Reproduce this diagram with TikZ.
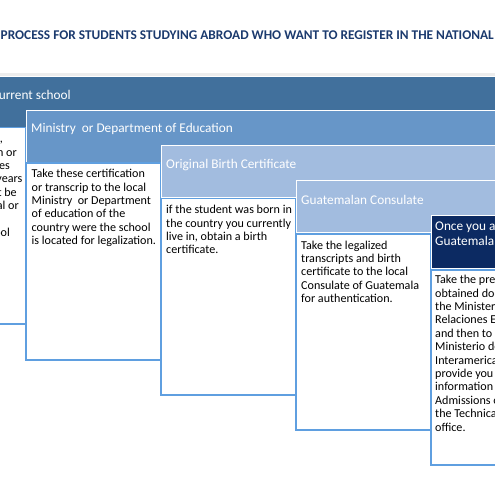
\documentclass[tikz,border=0pt]{standalone}
\usepackage{fontspec}
\setmainfont{Carlito}
\definecolor{titleblue}{HTML}{1B3A6E}
\definecolor{hdone}{HTML}{41709C}
\definecolor{hdtwo}{HTML}{6796C8}
\definecolor{hdthree}{HTML}{A2BCDF}
\definecolor{hdfive}{HTML}{0C2A62}
\definecolor{bodyline}{HTML}{5F9FE0}
\begin{document}
\begin{tikzpicture}[x=1pt,y=-1pt,
  hdr/.style={draw=white,line width=0.9pt},
  bodybox/.style={draw=bodyline,fill=white,line width=1.2pt},
  hdtext/.style={anchor=west,inner sep=0pt,text=white,font=\fontsize{13.3}{15.5}\selectfont},
  bodytext/.style={anchor=north west,inner sep=0pt,align=left,font=\fontsize{12.1}{13.4}\selectfont}]
\useasboundingbox (0,0) rectangle (495,482);
\clip (0,0) rectangle (495,482);
\fill[white] (0,0) rectangle (495,482);
% title
\node[anchor=west,inner sep=0pt,text=titleblue,font=\bfseries\fontsize{13.35}{16}\selectfont] (title) at (0.5,35)
  {PROCESS FOR STUDENTS STUDYING ABROAD WHO WANT TO REGISTER IN THE NATIONAL};
\fill[black!7] (-5,73) rectangle (500,76);
% step 1
\draw[hdr,fill=hdone] (-5,76) rectangle (500,127);
\node[hdtext] (h1) at (-8.5,95) {Current school};
\draw[bodybox] (-109,127.5) rectangle (26,324);
\node[bodytext,anchor=north east,align=right] (b1) at (22.5,134) {Obtain a certification,\kern19.5pt\\transcript of grades with or\kern5.5pt\\without the classes\kern12.5pt\\taken in the last three years\\of study, which must be\kern5.5pt\\signed by the principal or\kern3.5pt\\\mbox{}\\school\kern12.5pt};
% step 2
\draw[hdr,fill=hdtwo] (26,110) rectangle (500,162);
\node[hdtext] (h2) at (31,129) {Ministry\ \ or Department of Education};
\draw[bodybox] (26,163) rectangle (161,360);
\node[bodytext] (b2) at (31.5,169) {Take these certification\\or transcrip to the local\\Ministry\ \ or Department\\of education of the\\country were the school\\is located for legalization.};
% step 3
\draw[hdr,fill=hdthree] (161,145) rectangle (500,197);
\node[hdtext] (h3) at (166,165) {Original Birth Certificate};
\draw[bodybox] (161,198.5) rectangle (296,395);
\node[bodytext] (b3) at (166,205) {if the student was born in\\the country you currently\\live in, obtain a birth\\certificate.};
% step 4
\draw[hdr,fill=hdthree] (296,180) rectangle (500,232);
\node[hdtext] (h4) at (301,200) {Guatemalan Consulate};
\draw[bodybox] (296,234) rectangle (431,430);
\node[bodytext] (b4) at (301,240.5) {Take the legalized\\transcripts and birth\\certificate to the local\\Consulate of Guatemala\\for authentication.};
% step 5
\draw[hdr,fill=hdfive] (431,215) rectangle (500,268);
\node[hdtext,anchor=north west,align=left,font=\fontsize{13.3}{15}\selectfont] (h5) at (435,221) {Once you are in\\Guatemala};
\draw[bodybox] (431,270) rectangle (566,465);
\node[bodytext] (b5) at (435,275) {Take the previously\\obtained documents to\\the Ministerio de\\Relaciones Exteriores\\and then to the\\Ministerio de Educación\\Interamerican, who will\\provide you with\\information about\\Admissions of\\the Technical\\office.};
\end{tikzpicture}
\end{document}
